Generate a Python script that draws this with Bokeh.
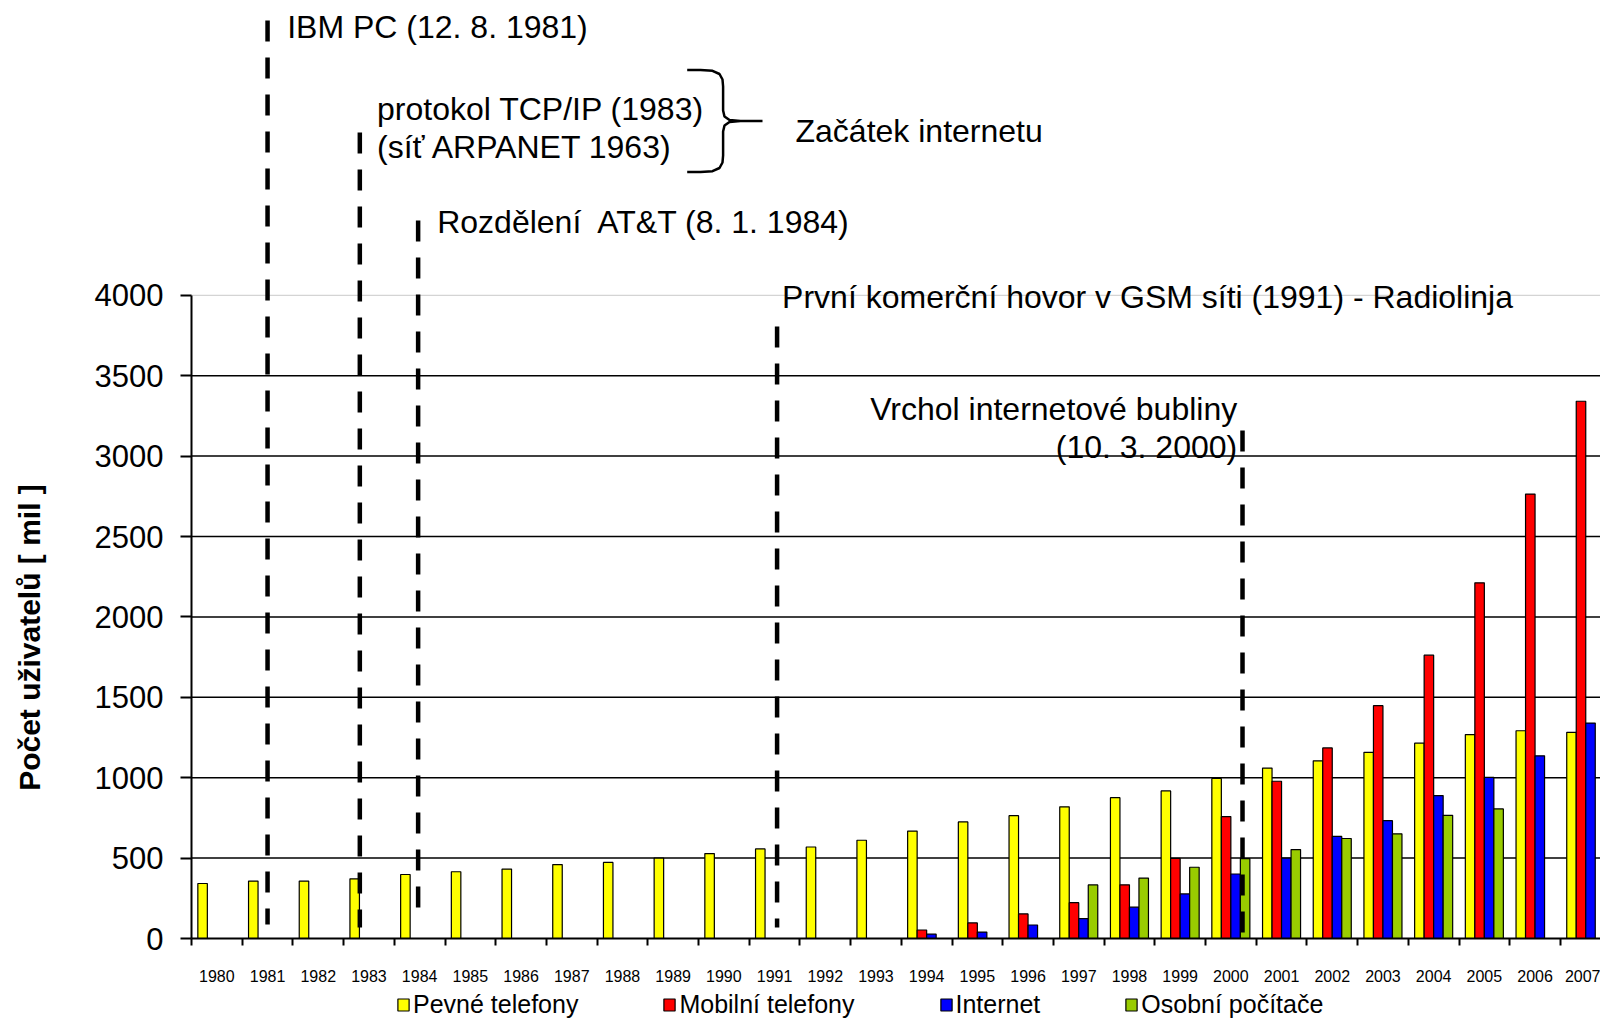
import math
from bokeh.plotting import figure
from bokeh.models import ColumnDataSource, FixedTicker, Range1d, Legend, LegendItem, Label
from bokeh.core.properties import value
from bokeh.embed import file_html
from bokeh.resources import INLINE

# ---------------- data ----------------
years = [str(y) for y in range(1980, 2008)]
fixed_phones = [342, 357, 357, 371, 398, 415, 432, 460, 473, 500, 528, 557, 569, 611,
                668, 725, 764, 819, 876, 918, 995, 1060, 1105, 1158, 1215, 1268, 1292, 1282]
mobile_years = [str(y) for y in range(1994, 2008)]
mobile_phones = [53, 97, 153, 223, 334, 498, 758, 978, 1185, 1448, 1762, 2212, 2764, 3341]
internet_years = [str(y) for y in range(1994, 2008)]
internet_users = [27, 40, 84, 124, 195, 277, 401, 500, 635, 733, 889, 1002, 1136, 1340]
pc_years = [str(y) for y in range(1997, 2006)]
personal_pcs = [333, 376, 443, 497, 553, 622, 651, 766, 806]

series_names = ["Pevné telefony", "Mobilní telefony", "Internet", "Osobní počítače"]
series_colors = ["#FFFF00", "#FF0000", "#0000FF", "#99CC00"]

# event markers (position in year-category units)
event_pos = [1.0, 2.82, 3.97, 11.05, 20.23]
y_ticks = [0, 500, 1000, 1500, 2000, 2500, 3000, 3500, 4000]

# ---------------- geometry ----------------
W, H = 1600, 1019
AXIS_X = 191        # pixel column of the value axis
AXIS_Y = 938        # pixel row of the category axis
CAT_W = 50.7
PX_PER_UNIT = 0.1608
x_start = -0.5 - AXIS_X / CAT_W
x_end = -0.5 + (W - AXIS_X) / CAT_W
y_start = -(H - AXIS_Y) / PX_PER_UNIT
y_end = AXIS_Y / PX_PER_UNIT

# helpers: pixel -> data coordinates (annotation placement only)
def dx(px):
    return (px - AXIS_X) / CAT_W - 0.5

def dy(py):
    return (AXIS_Y - py) / PX_PER_UNIT

p = figure(width=W, height=H, output_backend="svg", toolbar_location=None,
           x_range=Range1d(x_start, x_end), y_range=Range1d(y_start, y_end),
           min_border=0, min_border_left=0, min_border_right=0, min_border_top=0,
           min_border_bottom=0)
p.outline_line_color = None
p.background_fill_color = "white"
p.border_fill_color = "white"
p.xgrid.visible = False
p.ygrid.visible = False

# ---------------- grid lines (from tick values) ----------------
grid_vals = y_ticks[1:-1]
p.segment(x0=[-0.5] * len(grid_vals), y0=grid_vals, x1=[x_end] * len(grid_vals), y1=grid_vals,
          line_color="black", line_width=1.5)
p.segment(x0=[-0.5], y0=[y_ticks[-1]], x1=[x_end], y1=[y_ticks[-1]],
          line_color="#d4d4d4", line_width=1.2)

# ---------------- bars ----------------
idx = {y: i for i, y in enumerate(years)}
bw = 0.1875
offsets = [-1.5 * bw, -0.5 * bw, 0.5 * bw, 1.5 * bw]
all_series = [(years, fixed_phones), (mobile_years, mobile_phones),
              (internet_years, internet_users), (pc_years, personal_pcs)]
renderers = []
for k, (yrs, vals) in enumerate(all_series):
    src = ColumnDataSource(dict(x=[idx[y] + offsets[k] for y in yrs], top=vals))
    r = p.vbar(x="x", top="top", width=bw, bottom=0, source=src,
               fill_color=series_colors[k], line_color="black", line_width=1.2)
    renderers.append(r)

# ---------------- axes ----------------
ya = p.yaxis[0]
ya.fixed_location = -0.5
ya.ticker = FixedTicker(ticks=y_ticks)
ya.bounds = (0, 4000)
ya.axis_line_width = 2
ya.major_tick_line_width = 2
ya.major_tick_out = 11
ya.major_tick_in = 0
ya.minor_tick_line_color = None
ya.major_label_text_font = "Liberation Sans"
ya.major_label_text_font_size = "31px"
ya.major_label_text_color = "black"
ya.major_label_standoff = 17

xa = p.xaxis[0]
xa.fixed_location = 0
xa.bounds = (-0.5, x_end)
xa.ticker = FixedTicker(ticks=list(range(len(years))),
                        minor_ticks=[i - 0.5 for i in range(len(years) + 1)])
xa.major_label_overrides = {i: y for i, y in enumerate(years)}
xa.axis_line_width = 2
xa.major_tick_out = 0
xa.major_tick_in = 0
xa.major_tick_line_color = None
xa.minor_tick_out = 7
xa.minor_tick_in = 0
xa.minor_tick_line_width = 2
xa.minor_tick_line_color = "black"
xa.major_label_text_font = "Liberation Sans"
xa.major_label_text_font_size = "16px"
xa.major_label_text_color = "black"
xa.major_label_standoff = 24

# value-axis title
p.add_layout(Label(x=dx(29), y=dy(637), text="Počet uživatelů [ mil ]", angle=math.pi / 2,
                   text_align="center", text_baseline="middle",
                   text_font="Liberation Sans", text_font_style="bold",
                   text_font_size="30px", text_color="black"))

# ---------------- event lines ----------------
event_top = [dy(20), dy(132), dy(220), dy(326), dy(430)]
event_bottom = [dy(924), dy(927), dy(913), dy(927), dy(938)]
p.segment(x0=event_pos, y0=event_top, x1=event_pos, y1=event_bottom,
          line_color="black", line_width=4.5, line_dash="21 16")

# ---------------- annotation texts ----------------
left_texts = ["IBM PC (12. 8. 1981)", "protokol TCP/IP (1983)", "(síť ARPANET 1963)",
              "Začátek internetu", "Rozdělení\u00a0 AT&T (8. 1. 1984)",
              "První komerční hovor v GSM síti (1991) - Radiolinja"]
left_x = [dx(286.7), dx(376.5), dx(376.5), dx(795), dx(436.7), dx(781.6)]
left_y = [dy(26), dy(108), dy(146), dy(130), dy(221.5), dy(296)]
p.text(x=left_x, y=left_y, text=left_texts, text_font=value("Liberation Sans"),
       text_font_size="32px", text_color="black", text_align="left", text_baseline="middle")

right_texts = ["Vrchol internetové bubliny", "(10. 3. 2000)"]
p.text(x=[dx(1236.7)] * 2, y=[dy(408), dy(446)], text=right_texts,
       text_font=value("Liberation Sans"), text_font_size="32px", text_color="black",
       text_align="right", text_baseline="middle")

# brace
brace_px = [(686.7, 69.5), (700, 69.5), (712, 70.3), (719, 73.5), (722, 79), (722.6, 86),
            (722.6, 110), (724, 116), (729, 119.5), (740, 120.5), (762, 120.5),
            (740, 120.5), (729, 121.5), (724, 125), (722.6, 131), (722.6, 155),
            (722, 162), (719, 167.5), (712, 170.7), (700, 171.5), (686.7, 171.5)]
p.line(x=[dx(a) for a, b in brace_px], y=[dy(b) for a, b in brace_px],
       line_color="black", line_width=2.5)

# ---------------- legend ----------------
legend = Legend(items=[LegendItem(label=series_names[k], renderers=[renderers[k]]) for k in range(4)],
                orientation="horizontal", location=(396, 0),
                glyph_width=14, glyph_height=15, label_standoff=3, spacing=84,
                padding=0, margin=0, border_line_color=None, background_fill_alpha=0,
                label_text_font="Liberation Sans", label_text_font_size="25px",
                label_text_color="black")
p.add_layout(legend)

open("out.html", "w").write(file_html(p, INLINE))
